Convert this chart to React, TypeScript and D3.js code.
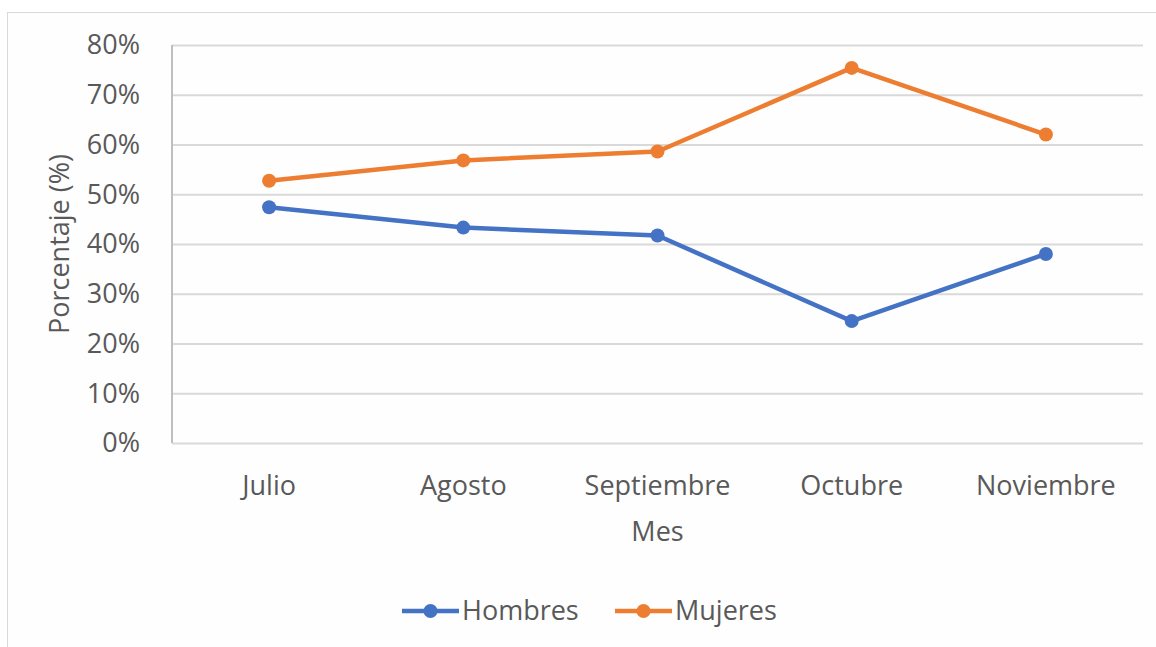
import { useEffect, useRef } from "react";
import * as d3 from "d3";

const months = ["Julio", "Agosto", "Septiembre", "Octubre", "Noviembre"];
const hombres = [47.4, 43.3, 41.7, 24.5, 38.0];
const mujeres = [52.7, 56.8, 58.6, 75.4, 62.0];
const yTicks = [0, 10, 20, 30, 40, 50, 60, 70, 80];

const series = [
  { name: "Hombres", values: hombres, color: "#4472C4" },
  { name: "Mujeres", values: mujeres, color: "#ED7D31" },
];

const W = 1156;
const H = 647;
const FONT = "'Open Sans', sans-serif";
const TEXT = "#595959";
const FS = 27;

export default function App() {
  const svgRef = useRef<SVGSVGElement>(null);

  useEffect(() => {
    if (!svgRef.current) return;
    const svg = d3.select(svgRef.current);
    svg.selectAll("*").remove();

    const margin = { top: 45, right: 13, bottom: 204, left: 172 };
    const width = W - margin.left - margin.right;
    const height = H - margin.top - margin.bottom;

    // chart border
    svg
      .append("rect")
      .attr("x", 7.5)
      .attr("y", 12.5)
      .attr("width", W)
      .attr("height", H)
      .attr("fill", "#fefefe")
      .attr("stroke", "#d9d9d9")
      .attr("stroke-width", 1);

    const x = d3.scaleBand().domain(months).range([0, width]);
    const y = d3.scaleLinear().domain([0, 80]).range([height, 0]);

    const g = svg
      .append("g")
      .attr("transform", `translate(${margin.left},${margin.top})`);

    // grid
    g.append("g")
      .call(
        d3
          .axisLeft(y)
          .tickValues(yTicks)
          .tickSize(-width)
          .tickFormat(() => "")
      )
      .call(s => s.select(".domain").remove())
      .selectAll("line")
      .attr("stroke", "#d9d9d9")
      .attr("stroke-width", 2);

    // y axis line
    g.append("line")
      .attr("x1", 0)
      .attr("x2", 0)
      .attr("y1", 0)
      .attr("y2", height)
      .attr("stroke", "#bfbfbf")
      .attr("stroke-width", 2);

    // y labels
    g.append("g")
      .selectAll("text")
      .data(yTicks)
      .enter()
      .append("text")
      .attr("x", -32)
      .attr("y", d => y(d))
      .attr("dy", "0.35em")
      .attr("text-anchor", "end")
      .attr("font-family", FONT)
      .attr("font-size", FS)
      .attr("fill", TEXT)
      .text(d => `${d}%`);

    // x labels
    g.append("g")
      .selectAll("text")
      .data(months)
      .enter()
      .append("text")
      .attr("x", d => (x(d) ?? 0) + x.bandwidth() / 2)
      .attr("y", height + 52)
      .attr("text-anchor", "middle")
      .attr("font-family", FONT)
      .attr("font-size", FS)
      .attr("fill", TEXT)
      .text(d => d);

    // axis titles
    g.append("text")
      .attr("x", width / 2)
      .attr("y", height + 98)
      .attr("text-anchor", "middle")
      .attr("font-family", FONT)
      .attr("font-size", FS)
      .attr("fill", TEXT)
      .text("Mes");

    g.append("text")
      .attr("transform", `translate(${-103},${height / 2}) rotate(-90)`)
      .attr("text-anchor", "middle")
      .attr("font-family", FONT)
      .attr("font-size", FS)
      .attr("fill", TEXT)
      .text("Porcentaje (%)");

    const line = d3
      .line<number>()
      .x((_, i) => (x(months[i]) ?? 0) + x.bandwidth() / 2)
      .y(d => y(d));

    series.forEach(s => {
      g.append("path")
        .datum(s.values)
        .attr("fill", "none")
        .attr("stroke", s.color)
        .attr("stroke-width", 4.5)
        .attr("stroke-linejoin", "round")
        .attr("d", line);
      g.selectAll(null)
        .data(s.values)
        .enter()
        .append("circle")
        .attr("cx", (_, i) => (x(months[i]) ?? 0) + x.bandwidth() / 2)
        .attr("cy", d => y(d))
        .attr("r", 7)
        .attr("fill", s.color);
    });

    // legend
    const legendX = [402, 615];
    const legendY = 611;
    series.forEach((s, i) => {
      const lg = svg.append("g").attr("transform", `translate(${legendX[i]},${legendY})`);
      lg.append("line")
        .attr("x1", 0)
        .attr("x2", 57)
        .attr("stroke", s.color)
        .attr("stroke-width", 4.5);
      lg.append("circle").attr("cx", 28.5).attr("cy", 0).attr("r", 7).attr("fill", s.color);
      lg.append("text")
        .attr("x", 60)
        .attr("dy", "0.35em")
        .attr("font-family", FONT)
        .attr("font-size", FS)
        .attr("fill", TEXT)
        .text(s.name);
    });
  }, []);

  return (
    <svg
      ref={svgRef}
      width={W}
      height={H}
      style={{ position: "absolute", left: 0, top: 0, background: "#fff" }}
    />
  );
}
